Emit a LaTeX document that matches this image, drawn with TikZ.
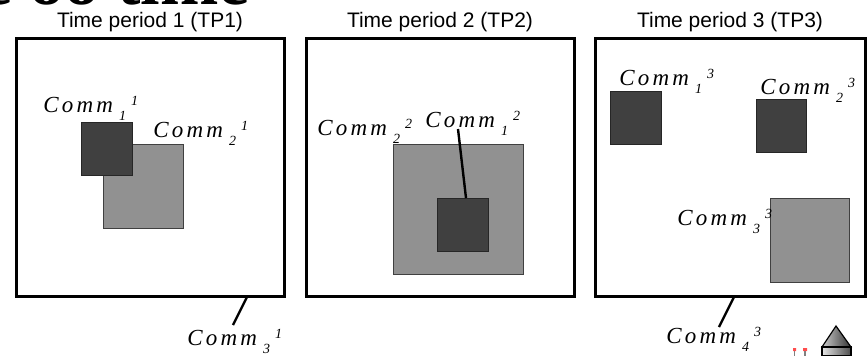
\documentclass[tikz,border=0pt]{standalone}
\usepackage{fontspec}
\setmainfont{Liberation Serif}
\newfontfamily\headfont{Liberation Sans}
\definecolor{commdark}{HTML}{404040}
\definecolor{commlight}{HTML}{919191}
% spaced-out italic label with sub- and superscript
\newcommand{\commlab}[2]{\fontsize{11.5}{14}\selectfont\itshape C\kern1.6pt o\kern1.6pt m\kern1.6pt m\kern3pt\raisebox{-4pt}{\fontsize{7}{8}\selectfont #1}\kern2.5pt\raisebox{3.5pt}{\fontsize{7}{8}\selectfont #2}}

\begin{document}
\begin{tikzpicture}[x=0.5pt,y=-0.5pt,
    panel/.style={line width=1.5pt},
    bigcomm/.style={fill=commlight,draw=commdark,line width=0.4pt},
    smallcomm/.style={fill=commdark,draw=black!85,line width=0.4pt},
    commtext/.style={anchor=base west,inner sep=0pt},
    tptext/.style={anchor=base,inner sep=0pt,font=\headfont\fontsize{10.5}{12}\selectfont},
    leader/.style={line width=1.2pt}]
    \useasboundingbox (0,0) rectangle (867,355);
    % cut-off slide heading
    \node[anchor=base west,inner sep=0pt,font=\bfseries\fontsize{35}{40}\selectfont] (slidehead) at (-19,4) {e oo time};

    % time period 1
    \node[tptext] (tp1) at (150,27) {Time period 1 (TP1)};
    \draw[panel] (16,38) rectangle (284,296);
    \draw[bigcomm] (103,144) rectangle (183,228);
    \draw[smallcomm] (81,122) rectangle (132,175);
    \node[commtext] (c11) at (43,112) {\commlab{1}{1}};
    \node[commtext] (c21) at (153,137) {\commlab{2}{1}};
    \node[commtext] (c31) at (187,345) {\commlab{3}{1}};
    \coordinate (c31top) at (247,297);
    \coordinate (c31end) at (233,325);
    \draw[leader] (c31top) -- (c31end);

    % time period 2
    \node[tptext] (tp2) at (440,27) {Time period 2 (TP2)};
    \draw[panel] (306,38) rectangle (574,296);
    \draw[bigcomm] (393,144) rectangle (523,274);
    \draw[smallcomm] (437,198) rectangle (488,251);
    \node[commtext] (c22) at (317,135) {\commlab{2}{2}};
    \node[commtext] (c12) at (425,127) {\commlab{1}{2}};
    \coordinate (c12top) at (458,129);
    \coordinate (c12end) at (466,198);
    \draw[leader] (c12top) -- (c12end);

    % time period 3
    \node[tptext] (tp3) at (730,27) {Time period 3 (TP3)};
    \draw[panel] (595,38) rectangle (865,296);
    \draw[smallcomm] (610,91) rectangle (661,144);
    \draw[smallcomm] (756,99) rectangle (806,152);
    \draw[bigcomm] (770,198) rectangle (849,282);
    \node[commtext] (c13) at (619,85) {\commlab{1}{3}};
    \node[commtext] (c23) at (760,94) {\commlab{2}{3}};
    \node[commtext] (c33) at (677,225) {\commlab{3}{3}};
    \node[commtext] (c43) at (666,343) {\commlab{4}{3}};
    \coordinate (c43top) at (734,297);
    \coordinate (c43end) at (719,327);
    \draw[leader] (c43top) -- (c43end);

    % pencil icon in the corner
    \shade[left color=gray!40,right color=black!80,draw=black,line width=0.6pt] (822,347) -- (836,326) -- (851,347) -- cycle;
    \shade[left color=gray!20,right color=black!70,draw=black,line width=0.6pt] (822,347) rectangle (851,356);
    \fill[red!70] (793,348) rectangle (796,351) (803,348) rectangle (807,351);
    \draw[gray,line width=0.6pt] (794.5,351) -- (794.5,356) (805,351) -- (805,356);
\end{tikzpicture}
\end{document}
